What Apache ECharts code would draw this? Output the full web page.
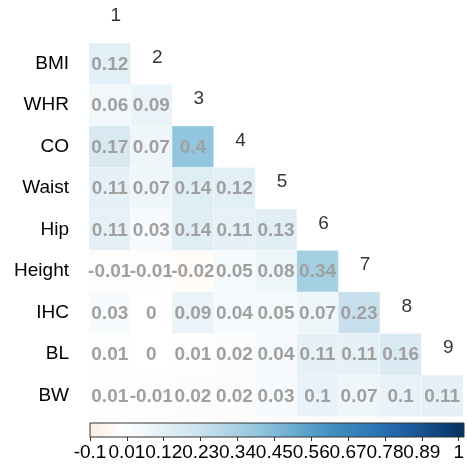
<!DOCTYPE html>
<html>
<head>
<meta charset="utf-8">
<script src="https://cdn.jsdelivr.net/npm/echarts@6/dist/echarts.min.js"></script>
<style>html,body{margin:0;padding:0;background:#fff}#c{width:467px;height:468px}</style>
</head>
<body>
<div id="c"></div>
<script>
const rowNames = ['BMI','WHR','CO','Waist','Hip','Height','IHC','BL','BW'];
const colLabels = ['1','2','3','4','5','6','7','8','9'];
const rBMI = [0.12];
const rWHR = [0.06, 0.09];
const rCO = [0.17, 0.07, 0.4];
const rWaist = [0.11, 0.07, 0.14, 0.12];
const rHip = [0.11, 0.03, 0.14, 0.11, 0.13];
const rHeight = [-0.01, -0.01, -0.02, 0.05, 0.08, 0.34];
const rIHC = [0.03, 0, 0.09, 0.04, 0.05, 0.07, 0.23];
const rBL = [0.01, 0, 0.01, 0.02, 0.04, 0.11, 0.11, 0.16];
const rBW = [0.01, -0.01, 0.02, 0.02, 0.03, 0.1, 0.07, 0.1, 0.11];
const barTicks = ['-0.1','0.01','0.12','0.23','0.34','0.45','0.56','0.67','0.78','0.89','1'];
const palette = ['#67001F','#B2182B','#D6604D','#F4A582','#FDDBC7','#FFFFFF','#D1E5F0','#92C5DE','#4393C3','#2166AC','#053061'];

const rowsVals = [rBMI, rWHR, rCO, rWaist, rHip, rHeight, rIHC, rBL, rBW];
const yCats = [''].concat(rowNames);

function hex(c){return [parseInt(c.slice(1,3),16),parseInt(c.slice(3,5),16),parseInt(c.slice(5,7),16)];}
function colorAt(v){
  const t = (v + 1) / 2 * (palette.length - 1);
  const i = Math.min(Math.floor(t), palette.length - 2);
  const f = t - i;
  const a = hex(palette[i]), b = hex(palette[i + 1]);
  const m = a.map((x, k) => Math.round(x + (b[k] - x) * f));
  return 'rgb(' + m.join(',') + ')';
}
const cells = [];
rowsVals.forEach((arr, r) => arr.forEach((v, c) => cells.push([c, r + 1, v])));
const colLab = colLabels.map((t, i) => ({ value: [i, i], name: t }));

const barMin = parseFloat(barTicks[0]), barMax = parseFloat(barTicks[barTicks.length - 1]);
const stopVals = [barMin, 0, 0.2, 0.4, 0.6, 0.8, 1];
const stops = stopVals.map(v => ({ offset: (v - barMin) / (barMax - barMin), color: colorAt(v) }));

const chart = echarts.init(document.getElementById('c'));
chart.setOption({
  animation: false,
  grid: [
    { left: 89, top: 1.5, width: 374, height: 415 },
    { left: 90, top: 423, width: 374, height: 14 }
  ],
  xAxis: [
    { type: 'category', gridIndex: 0, data: colLabels, show: false },
    { type: 'category', gridIndex: 1, data: barTicks, boundaryGap: false,
      axisLine: { show: false }, splitLine: { show: false },
      axisTick: { show: true, length: 4, inside: false, lineStyle: { color: '#333', width: 1 } },
      axisLabel: { interval: 0, fontSize: 19, color: '#000', margin: 6, fontFamily: 'Liberation Sans' } }
  ],
  yAxis: [
    { type: 'category', gridIndex: 0, data: yCats, inverse: true,
      axisLine: { show: false }, axisTick: { show: false }, splitLine: { show: false },
      axisLabel: { fontSize: 19, color: '#000', margin: 20, fontFamily: 'Liberation Sans' } },
    { type: 'value', gridIndex: 1, show: false }
  ],
  graphic: [
    { type: 'rect', shape: { x: 90, y: 423, width: 374, height: 14 },
      style: { fill: { type: 'linear', x: 0, y: 0, x2: 1, y2: 0, colorStops: stops }, stroke: '#333', lineWidth: 1 } }
  ],
  series: [
    { type: 'custom', xAxisIndex: 0, yAxisIndex: 0, data: cells,
      encode: { x: 0, y: 1 },
      renderItem: function (params, api) {
        const v = api.value(2);
        const c = api.coord([api.value(0), api.value(1)]);
        const s = api.size([1, 1]);
        return {
          type: 'group',
          children: [
            { type: 'rect', shape: { x: c[0] - s[0] / 2, y: c[1] - s[1] / 2, width: s[0], height: s[1] },
              style: { fill: colorAt(v), stroke: 'rgba(255,255,255,0.4)', lineWidth: 0.5 } },
            { type: 'text', x: c[0], y: c[1] + 1,
              style: { text: String(v), fill: '#a0a0a0', font: 'bold 19px "Liberation Sans"', align: 'center', verticalAlign: 'middle' } }
          ]
        };
      } },
    { type: 'scatter', xAxisIndex: 0, yAxisIndex: 0, data: colLab, symbolSize: 0,
      label: { show: true, formatter: p => p.name, color: '#000', fontSize: 19, fontFamily: 'Liberation Sans', offset: [6, -6], position: 'inside' },
      emphasis: { disabled: true } }
  ]
});
</script>
</body>
</html>
